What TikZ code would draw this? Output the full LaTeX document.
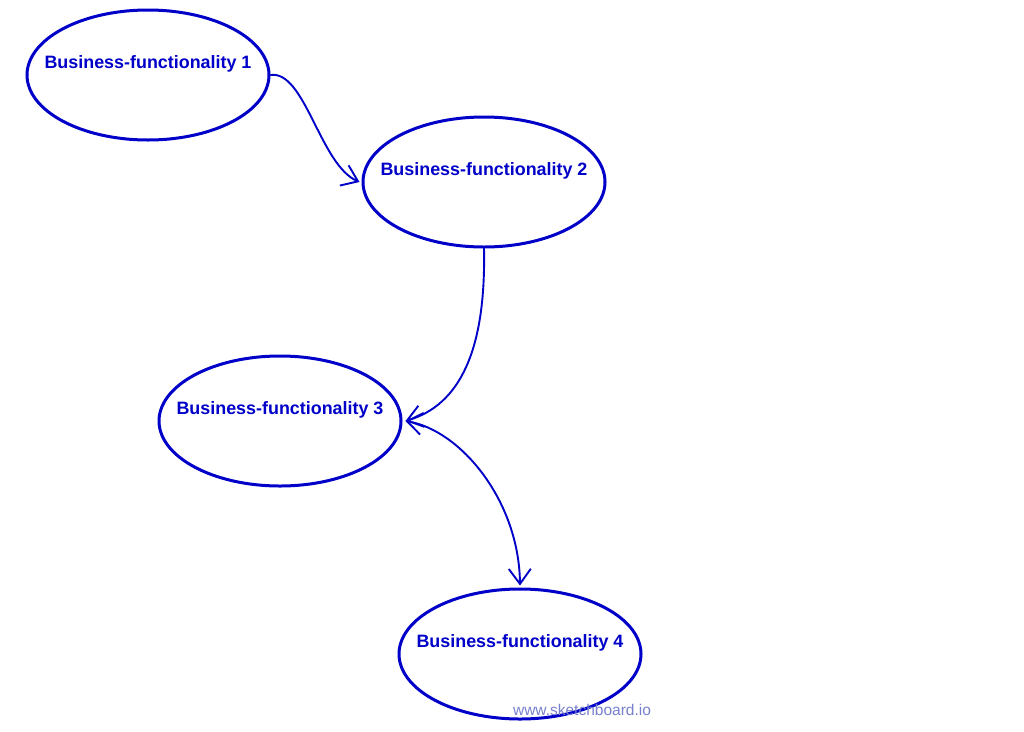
\documentclass[tikz,border=0pt]{standalone}
\usepackage{fontspec}
\setmainfont{Liberation Sans}
\usetikzlibrary{shapes.geometric,arrows.meta}
\definecolor{sbblue}{RGB}{0,0,200}
\definecolor{wmark}{RGB}{120,128,205}
\tikzset{
  func/.style={ellipse, draw=sbblue, line width=3pt, minimum width=242pt, minimum height=130pt, inner sep=0pt, text=sbblue, font=\bfseries\fontsize{17.9}{20}\selectfont},
  link/.style={draw=sbblue, line width=1.9pt, line cap=round, -{Straight Barb[length=15pt,width=22pt,line width=1.9pt]}},
  both/.style={draw=sbblue, line width=1.9pt, line cap=round, {Straight Barb[length=15pt,width=22pt,line width=1.9pt]}-{Straight Barb[length=15pt,width=22pt,line width=1.9pt]}}
}
\newcommand{\fl}[1]{\raisebox{7pt}[0pt][0pt]{\makebox[0pt]{#1}}}
\begin{document}
\begin{tikzpicture}[x=1pt,y=-1pt]
\useasboundingbox (0,0) rectangle (1024,731);
\node[func] (n1) at (148,75) {\fl{Business-functionality 1}};
\node[func] (n2) at (484,182) {\fl{Business-functionality 2}};
\node[func] (n3) at (280,421) {\fl{Business-functionality 3}};
\node[func] (n4) at (520,654) {\fl{Business-functionality 4}};
\draw[link] (n1.east) .. controls (305,70) and (320,165) .. ([xshift=-2pt]n2.west);
\draw[link] (n2.south) .. controls (486,350) and (460,405) .. ([xshift=3pt]n3.east);
\draw[both] ([xshift=3pt]n3.east) .. controls (460,430) and (519,500) .. ([yshift=2pt]n4.north);
\node[anchor=base, text=wmark, font=\fontsize{15.5}{18}\selectfont, inner sep=0pt] (wm) at (582,715) {www.sketchboard.io};
\end{tikzpicture}
\end{document}
